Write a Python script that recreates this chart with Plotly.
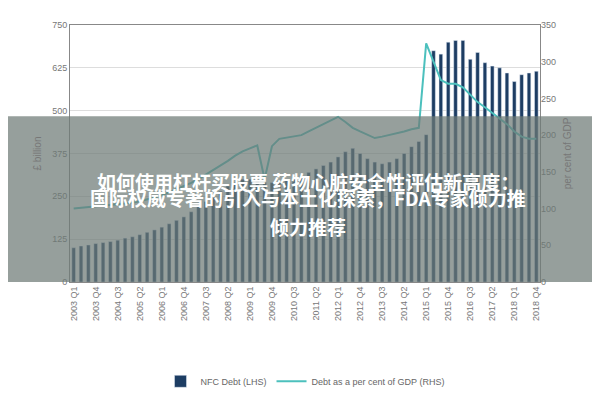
import plotly.graph_objects as go

quarters = [f"{y} Q{q}" for y in range(2003, 2019) for q in range(1, 5)]
nfc_debt = [100,105,108,112, 115,118,122,128, 132,138,145,152, 160,170,180,190,
            205,220,235,250, 265,280,290,300, 300,295,290,290, 295,300,305,310,
            320,330,340,350, 365,380,390,375, 360,350,345,350, 360,375,395,410,
            430,675,665,700, 705,705,650,670, 640,630,625,610, 585,605,610,615]
debt_gdp = [100,101,102,103, 104,105,106,107, 108,110,112,115, 118,122,126,130,
            135,140,146,152, 158,165,172,178, 182,186,140,185, 195,197,198,200,
            205,210,215,220, 225,218,210,205, 200,196,198,200, 202,205,208,210,
            325,300,275,270, 270,265,255,245, 238,230,222,215, 205,198,195,195]
tick_labels = quarters[::3] + ["2018 Q4"]
banner_lines = ["如何使用杠杆买股票 药物心脏安全性评估新高度：",
                "国际权威专著的引入与本土化探索，FDA专家倾力推",
                "倾力推荐"]

fig = go.Figure()
fig.add_trace(go.Bar(x=quarters, y=nfc_debt, name="NFC Debt (LHS)",
                     marker_color="#1d3d63", width=0.5))
fig.add_trace(go.Scatter(x=quarters, y=debt_gdp, name="Debt as a per cent of GDP (RHS)",
                         yaxis="y2", mode="lines", line=dict(color="#4cc0bd", width=2)))
tf = dict(family="Liberation Sans", size=9, color="#777")
fig.update_layout(
    width=600, height=400, margin=dict(l=62, r=68, t=14, b=110),
    paper_bgcolor="white", plot_bgcolor="white",
    font=dict(family="Liberation Sans", color="#666"),
    xaxis=dict(tickmode="array", tickvals=tick_labels, ticktext=tick_labels,
               tickangle=-90, tickfont=tf, showline=True, linecolor="#888", mirror=True,
               ticks=""),
    yaxis=dict(range=[0, 750], dtick=125, tickfont=tf, gridcolor="#ddd",
               showline=True, linecolor="#888", mirror=True,
               title=dict(text="£ billion", font=dict(size=10, color="#777"), standoff=8)),
    yaxis2=dict(range=[0, 350], dtick=50, tickfont=tf, overlaying="y", side="right",
                showgrid=False,
                title=dict(text="per cent of GDP", font=dict(size=10, color="#777"), standoff=8)),
    legend=dict(orientation="h", x=0.5, xanchor="center", y=-0.33, yanchor="top",
                font=dict(size=9, color="#666")),
    shapes=[dict(type="rect", xref="paper", yref="paper", x0=-0.14, x1=1.15,
                 y0=0.0, y1=0.645, fillcolor="rgba(110,122,118,0.72)",
                 line_width=0, layer="above")],
)
ys = [0.39, 0.27, 0.155]
for t, yy in zip(banner_lines, ys):
    fig.add_annotation(text=f"<b>{t}</b>", xref="paper", yref="paper",
                       x=0.506, y=yy, showarrow=False,
                       font=dict(family="Noto Sans CJK SC", size=19, color="white"))
fig.write_html("out.html")
